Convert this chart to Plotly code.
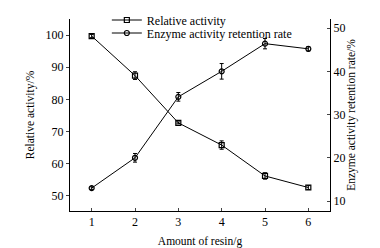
import plotly.graph_objects as go

amount = [1, 2, 3, 4, 5, 6]
relative_activity = [99.7, 87.4, 72.7, 65.8, 56.2, 52.6]
relative_err = [0.5, 1.2, 0.3, 1.3, 1.0, 0.6]
retention_rate = [13.0, 20.0, 34.1, 40.0, 46.4, 45.2]
retention_err = [0.3, 1.0, 1.0, 1.8, 1.2, 0.5]

FONT = "Liberation Serif"

fig = go.Figure()
fig.add_trace(go.Scatter(
    x=amount, y=relative_activity, name="Relative activity",
    mode="lines+markers",
    line=dict(color="black", width=1),
    marker=dict(symbol="square-open", size=5, color="black", line=dict(width=1.2)),
    error_y=dict(type="data", array=relative_err, color="black", thickness=1, width=2),
    yaxis="y", legend="legend",
))
fig.add_trace(go.Scatter(
    x=amount, y=retention_rate, name="Enzyme activity retention rate",
    mode="lines+markers",
    line=dict(color="black", width=1),
    marker=dict(symbol="circle-open", size=5, color="black", line=dict(width=1.2)),
    error_y=dict(type="data", array=retention_err, color="black", thickness=1, width=2),
    yaxis="y2", legend="legend2",
))

leg_common = dict(xanchor="left", yanchor="middle", bgcolor="rgba(0,0,0,0)",
                  font=dict(size=12, family=FONT), itemwidth=30)

fig.update_layout(
    width=372, height=240,
    margin=dict(l=61.5, r=50, t=11, b=37, autoexpand=False),
    paper_bgcolor="white", plot_bgcolor="white",
    font=dict(family=FONT, size=11, color="black"),
    showlegend=True,
    legend=dict(x=0.1417, y=1 - 1.0 / 192, **leg_common),
    legend2=dict(x=0.1417, y=1 - 14.0 / 192, **leg_common),
    xaxis=dict(range=[0.5, 6.5], tickvals=amount, ticks="inside", ticklen=3,
               showline=True, linecolor="black", linewidth=1, showgrid=False,
               zeroline=False, mirror=False, automargin=False,
               title=dict(text="Amount of resin/g", font=dict(size=11.5), standoff=8),
               tickfont=dict(size=12)),
    yaxis=dict(range=[45.3, 105], tickvals=[50, 60, 70, 80, 90, 100], ticks="outside",
               ticklen=3, showline=True, linecolor="black", linewidth=1,
               showgrid=False, zeroline=False, automargin=False,
               title=dict(text="Relative activity/%", font=dict(size=11.5), standoff=8),
               tickfont=dict(size=12)),
    yaxis2=dict(range=[7.7, 52.1], tickvals=[10, 20, 30, 40, 50], ticks="inside",
                ticklen=3, showline=True, linecolor="black", linewidth=1,
                showgrid=False, zeroline=False, overlaying="y", side="right",
                anchor="x", automargin=False,
                title=dict(text="Enzyme activity retention rate/%", font=dict(size=11.5), standoff=0),
                tickfont=dict(size=12)),
)

fig.write_html("out.html")
